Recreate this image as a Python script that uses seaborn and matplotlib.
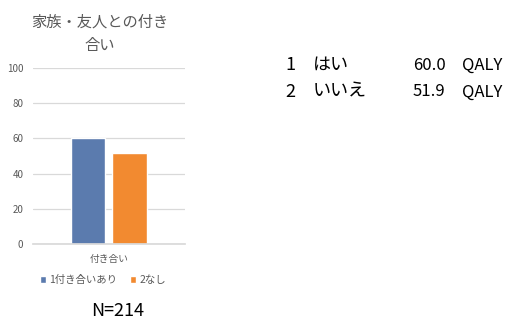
import matplotlib
matplotlib.use("Agg")
import matplotlib.pyplot as plt
import seaborn as sns
import pandas as pd

# data
category = ["付き合い"]
series = ["1付き合いあり", "2なし"]
values = [60.0, 51.9]
answer_no = ["1", "2"]
answers = ["はい", "いいえ"]
qaly_vals = ["60.0", "51.9"]
colors = ["#5B7BAE", "#F28A30"]

sns.set_theme(style="white")
plt.rcParams['font.family'] = ['Noto Sans CJK JP', 'DejaVu Sans']

df = pd.DataFrame({"cat": category * len(series), "series": series, "value": values})

fig = plt.figure(figsize=(5.09, 3.19), dpi=100)
ax = fig.add_axes([0.065, 0.235, 0.298, 0.552])

sns.barplot(data=df, x="cat", y="value", hue="series", palette=colors,
            width=0.545, gap=0.17, ax=ax, saturation=1)

ax.set_ylim(0, 100)
ax.set_xlim(-0.5, 0.5)
ax.set_yticks([0, 20, 40, 60, 80, 100])
ax.yaxis.grid(True, color="#D9D9D9", linewidth=0.9)
ax.set_axisbelow(True)
for s in ["top", "right", "left"]:
    ax.spines[s].set_visible(False)
ax.spines["bottom"].set_color("#D9D9D9")
ax.tick_params(axis="y", labelsize=7, colors="#595959", length=0, pad=7)
ax.tick_params(axis="x", labelsize=7, colors="#595959", length=0, pad=7)
ax.set_xlabel("")
ax.set_ylabel("")

fig.text(100 / 509, 1 - 34 / 319, "家族・友人との付き\n合い", fontsize=11, color="#595959",
         ha="center", va="center", linespacing=1.5)

ax.legend(loc="center", bbox_to_anchor=(0.46, -0.205), ncol=2, frameon=False,
          fontsize=7.5, handlelength=0.6, handleheight=0.6, handletextpad=0.3,
          columnspacing=1.2, labelcolor="#595959")

fig.text(118 / 509, 1 - 311 / 319, "N=214", fontsize=13, ha="center", va="center", color="black")

for i in range(len(answers)):
    y = 1 - (65 + i * 27) / 319
    fig.text(285 / 509, y, answer_no[i], fontsize=13, ha="left", va="center", color="black")
    fig.text(313 / 509, y, answers[i], fontsize=13, ha="left", va="center", color="black")
    fig.text(413 / 509, y, qaly_vals[i], fontsize=12, ha="left", va="center", color="black")
    fig.text(462 / 509, y, "QALY", fontsize=12, ha="left", va="center", color="black")

fig.savefig("out.png", dpi=100)
